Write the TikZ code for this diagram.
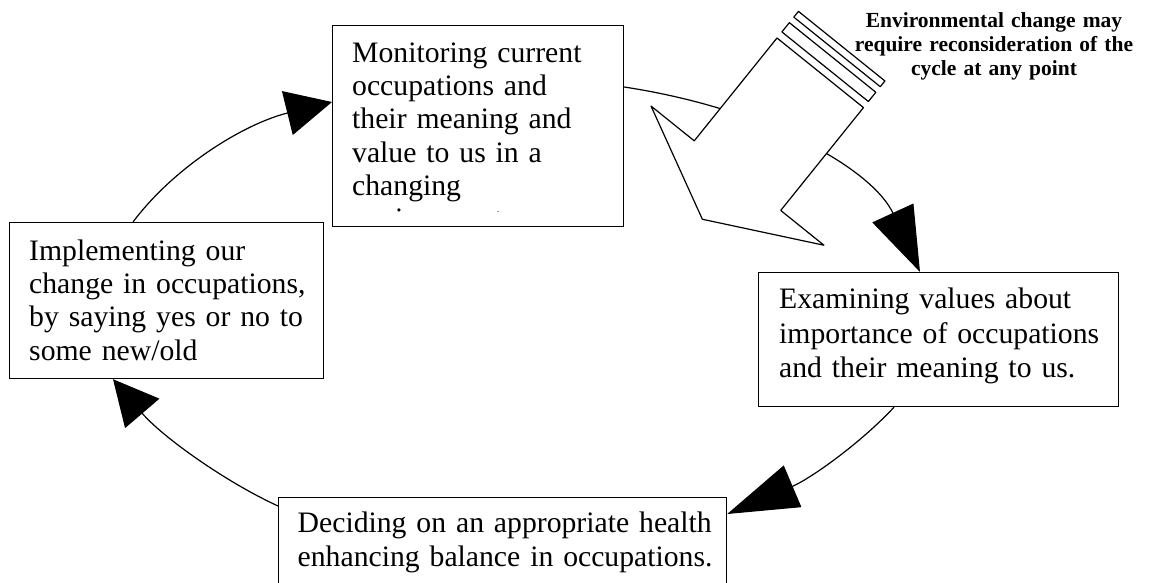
\documentclass[tikz,border=0pt]{standalone}
\usepackage{fontspec}
\setmainfont{Liberation Serif}
\usetikzlibrary{arrows.meta}
\begin{document}
\begin{tikzpicture}[x=1pt,y=-1pt,
  box/.style={draw, line width=1.2pt, fill=white, inner sep=0pt, anchor=north west},
  txt/.style={inner sep=0pt, anchor=north west, align=left, font=\fontsize{29.7}{33.3}\selectfont},
  conn/.style={line width=1.2pt, -{Triangle[length=#1, width=45pt]}},
  bigarrow/.style={draw, line width=1.2pt, fill=white, line join=round}]
\useasboundingbox (0,0) rectangle (1153,582);
\clip (0,0) rectangle (1153,582);
\fill[white] (0,0) rectangle (1153,582);

% boxes
\node[box, minimum width=291pt, minimum height=201pt] (mon) at (332,25) {};
\node[box, minimum width=314pt, minimum height=156pt] (imp) at (9,222) {};
\node[box, minimum width=360pt, minimum height=134pt] (exa) at (758,272) {};
\node[box, minimum width=448pt, minimum height=110pt] (dec) at (278,497) {};

% texts
\begin{scope}
\clip (332,25) rectangle (623,211.5);
\node[txt, text width=270pt] (mont) at (352,38.7) {\strut Monitoring current\\occupations and\\their meaning and\\value to us in a\\changing\\environment.};
\end{scope}
\node[txt, text width=290pt] (impt) at (29,236.7) {\strut Implementing our\\change in occupations,\\by saying yes or no to\\some new/old};
\node[txt, text width=330pt, font=\fontsize{29.7}{34.5}\selectfont] (exat) at (779,284.2) {\strut Examining values about\\importance of occupations\\and their meaning to us.};
\node[txt, text width=420pt] (dect) at (297.5,509.4) {\strut Deciding on an appropriate health\\enhancing balance in occupations.};

% connectors
\draw[conn=65pt] ([yshift=-62pt]mon.north east) .. controls +(150,23) and +(-46,-100) .. ([xshift=162pt]exa.north west);
\draw[conn=71pt] ([xshift=136pt]exa.south west) .. controls +(-34,36.5) and +(82.8,-35.1) .. ([yshift=-17pt]dec.north east);
\draw[conn=45pt] ([yshift=-9pt]dec.north west) .. controls +(-54.6,-25.2) and +(48.8,57) .. ([xshift=104pt]imp.south west);
\draw[conn=46pt] ([xshift=124pt]imp.north west) .. controls +(42,-56) and +(-87.3,21.6) .. ([yshift=-77pt]mon.north west);

% striped block arrow
\begin{scope}[shift={(777,38)}, x={(-0.627pt,-0.779pt)}, y={(0.779pt,-0.627pt)}]
\draw[bigarrow] (0,0) -- (132,0) -- (132,-55.5) -- (188,55.5) -- (132,166.5) -- (132,111) -- (0,111) -- cycle;
\draw[bigarrow] (-7.8,0) -- (-19.7,0) -- (-19.7,111) -- (-7.8,111) -- cycle;
\draw[bigarrow] (-26.8,0) -- (-34.2,0) -- (-34.2,111) -- (-26.8,111) -- cycle;
\end{scope}

\node[inner sep=0pt, anchor=north, align=center, text width=300pt, font=\bfseries\fontsize{21.5}{24}\selectfont] (env) at (994,10.2) {\strut Environmental change may\\require reconsideration of the\\cycle at any point};
\end{tikzpicture}
\end{document}
